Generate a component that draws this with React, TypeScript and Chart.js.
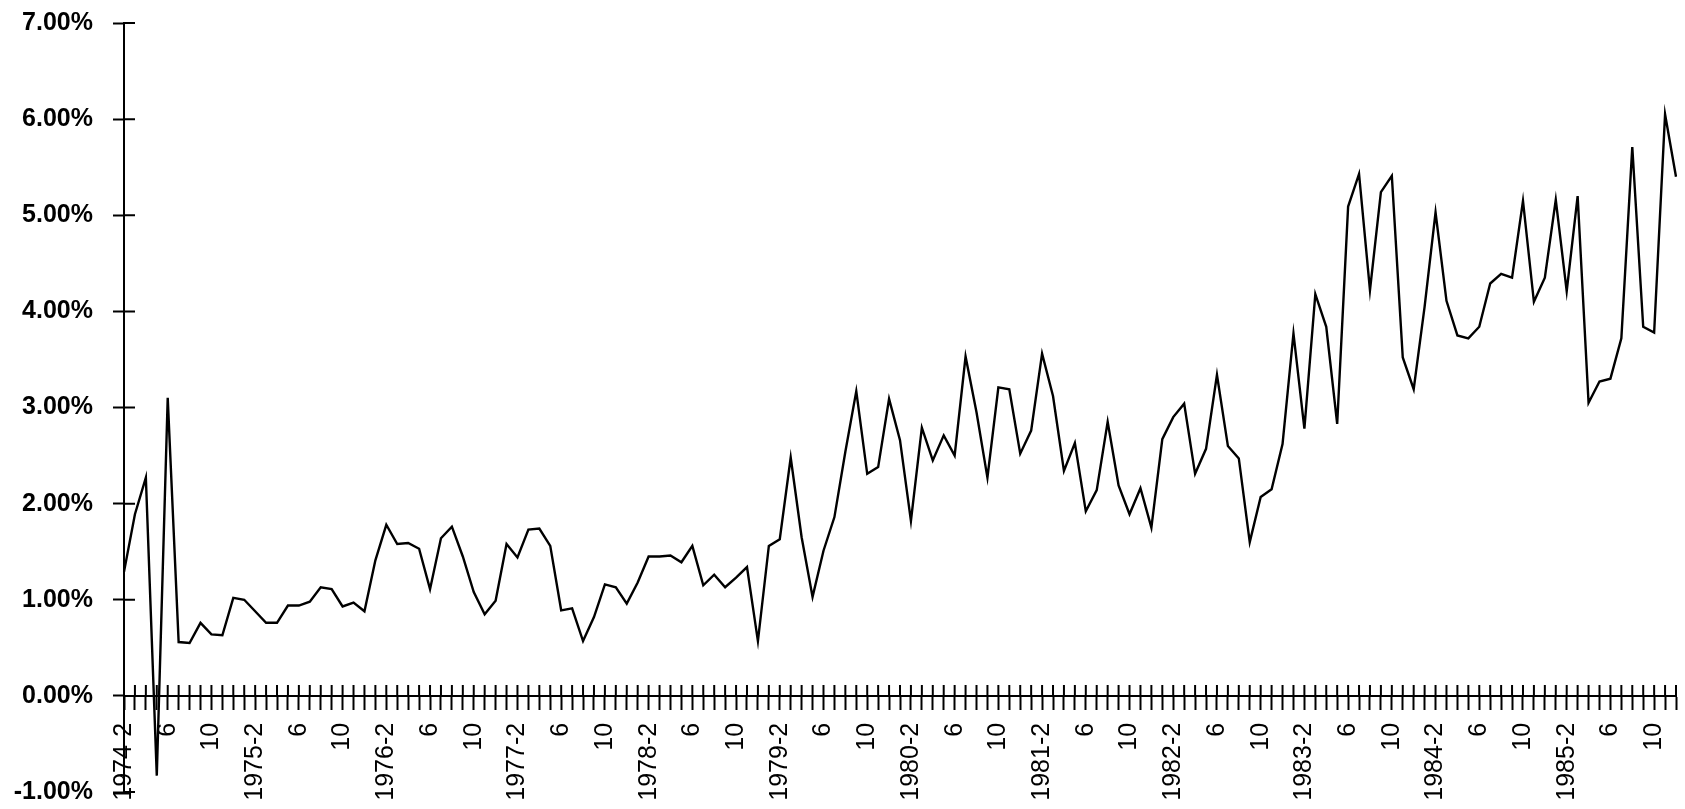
import React, { useEffect, useRef } from "react";
import Chart from "chart.js/auto";

// monthly series, 1974-2 .. 1985-12 (percent)
const startYear = 1974;
const startMonth = 2;
const values: number[] = [
  1.29, 1.89, 2.27, -0.83, 3.1, 0.56, 0.55, 0.76, 0.64, 0.63, 1.02, 1.0,
  0.88, 0.76, 0.76, 0.94, 0.94, 0.98, 1.13, 1.11, 0.93, 0.97, 0.88, 1.41,
  1.78, 1.58, 1.59, 1.53, 1.11, 1.64, 1.76, 1.45, 1.08, 0.85, 0.99, 1.58,
  1.44, 1.73, 1.74, 1.56, 0.89, 0.91, 0.57, 0.82, 1.16, 1.13, 0.96, 1.18,
  1.45, 1.45, 1.46, 1.39, 1.56, 1.15, 1.26, 1.13, 1.23, 1.34, 0.57, 1.56,
  1.63, 2.48, 1.65, 1.03, 1.51, 1.86, 2.54, 3.17, 2.31, 2.38, 3.09, 2.66,
  1.82, 2.79, 2.45, 2.71, 2.5, 3.53, 2.95, 2.27, 3.21, 3.19, 2.52, 2.76,
  3.56, 3.12, 2.34, 2.63, 1.92, 2.14, 2.85, 2.19, 1.89, 2.16, 1.75, 2.67,
  2.9, 3.04, 2.31, 2.57, 3.34, 2.6, 2.47, 1.6, 2.07, 2.15, 2.62, 3.77,
  2.78, 4.18, 3.84, 2.83, 5.09, 5.43, 4.22, 5.24, 5.41, 3.52, 3.19, 4.05,
  5.03, 4.11, 3.75, 3.72, 3.84, 4.29, 4.39, 4.35, 5.15, 4.1, 4.35, 5.16,
  4.21, 5.2, 3.05, 3.27, 3.3, 3.72, 5.71, 3.84, 3.78, 6.05, 5.4,
];

const months: string[] = values.map((_, i) => {
  const m = startMonth - 1 + i;
  return `${startYear + Math.floor(m / 12)}-${(m % 12) + 1}`;
});

// months that get a tick label
const labelledMonths = [2, 6, 10];

const tickText = (label: string) => {
  const [yr, mo] = label.split("-");
  const m = Number(mo);
  if (!labelledMonths.includes(m)) return "";
  return m === 2 ? `${yr}-${m}` : `${m}`;
};

// tick marks cross the axes: draw the inner half
const crossTicks = {
  id: "crossTicks",
  afterDraw(chart: any) {
    const { ctx, scales } = chart;
    const x = scales.x;
    const y = scales.y;
    const y0 = y.getPixelForValue(0);
    ctx.save();
    ctx.strokeStyle = "#000";
    ctx.lineWidth = 2;
    ctx.beginPath();
    x.ticks.forEach((_: any, i: number) => {
      const px = x.getPixelForTick(i);
      ctx.moveTo(px, y0 - 11);
      ctx.lineTo(px, y0);
    });
    y.ticks.forEach((_: any, i: number) => {
      const py = y.getPixelForTick(i);
      ctx.moveTo(y.right, py);
      ctx.lineTo(y.right + 11, py);
    });
    ctx.stroke();
    ctx.restore();
  },
};

const App: React.FC = () => {
  const canvasRef = useRef<HTMLCanvasElement | null>(null);
  const chartRef = useRef<Chart | null>(null);

  useEffect(() => {
    document.body.style.margin = "0";
    if (!canvasRef.current) return;
    if (chartRef.current) chartRef.current.destroy();
    const ctx = canvasRef.current.getContext("2d");
    if (!ctx) return;

    chartRef.current = new Chart(ctx, {
      type: "line",
      data: {
        labels: months,
        datasets: [
          {
            data: values,
            borderColor: "#000",
            borderWidth: 2.4,
            pointRadius: 0,
            tension: 0,
            fill: false,
          },
        ],
      },
      options: {
        responsive: false,
        animation: false,
        layout: { padding: { left: 0, right: 9, top: 23, bottom: 17 } },
        plugins: { legend: { display: false }, tooltip: { enabled: false } },
        scales: {
          x: {
            type: "category",
            position: { y: 0 },
            offset: false,
            grid: {
              drawOnChartArea: false,
              drawTicks: true,
              tickLength: 13,
              tickColor: "#000",
              tickWidth: 2,
            },
            border: { display: true, color: "#000", width: 2 },
            ticks: {
              autoSkip: false,
              minRotation: 90,
              maxRotation: 90,
              padding: 14,
              color: "#000",
              font: { family: "'Liberation Sans', Arial, sans-serif", size: 25 },
              callback: (_v: any, i: number) => tickText(months[i]),
            },
            afterFit: (scale: any) => {
              scale.paddingLeft = 0;
              scale.paddingRight = 0;
            },
          },
          y: {
            min: -1,
            max: 7,
            grid: {
              drawOnChartArea: false,
              tickLength: 11,
              tickColor: "#000",
              tickWidth: 2,
            },
            border: { display: true, color: "#000", width: 2 },
            ticks: {
              stepSize: 1,
              padding: 20,
              color: "#000",
              font: {
                family: "'Liberation Sans', Arial, sans-serif",
                size: 25,
                weight: "bold",
              },
              callback: (v: any) => `${Number(v).toFixed(2)}%`,
            },
            afterFit: (scale: any) => {
              scale.width = 124;
              scale.paddingTop = 0;
              scale.paddingBottom = 0;
            },
          },
        },
      },
      plugins: [crossTicks],
    });

    return () => {
      if (chartRef.current) {
        chartRef.current.destroy();
        chartRef.current = null;
      }
    };
  }, []);

  return (
    <div style={{ position: "absolute", left: 0, top: 0, width: 1685, height: 809, background: "#fff" }}>
      <canvas ref={canvasRef} width="1685" height="809"></canvas>
    </div>
  );
};

export default App;
